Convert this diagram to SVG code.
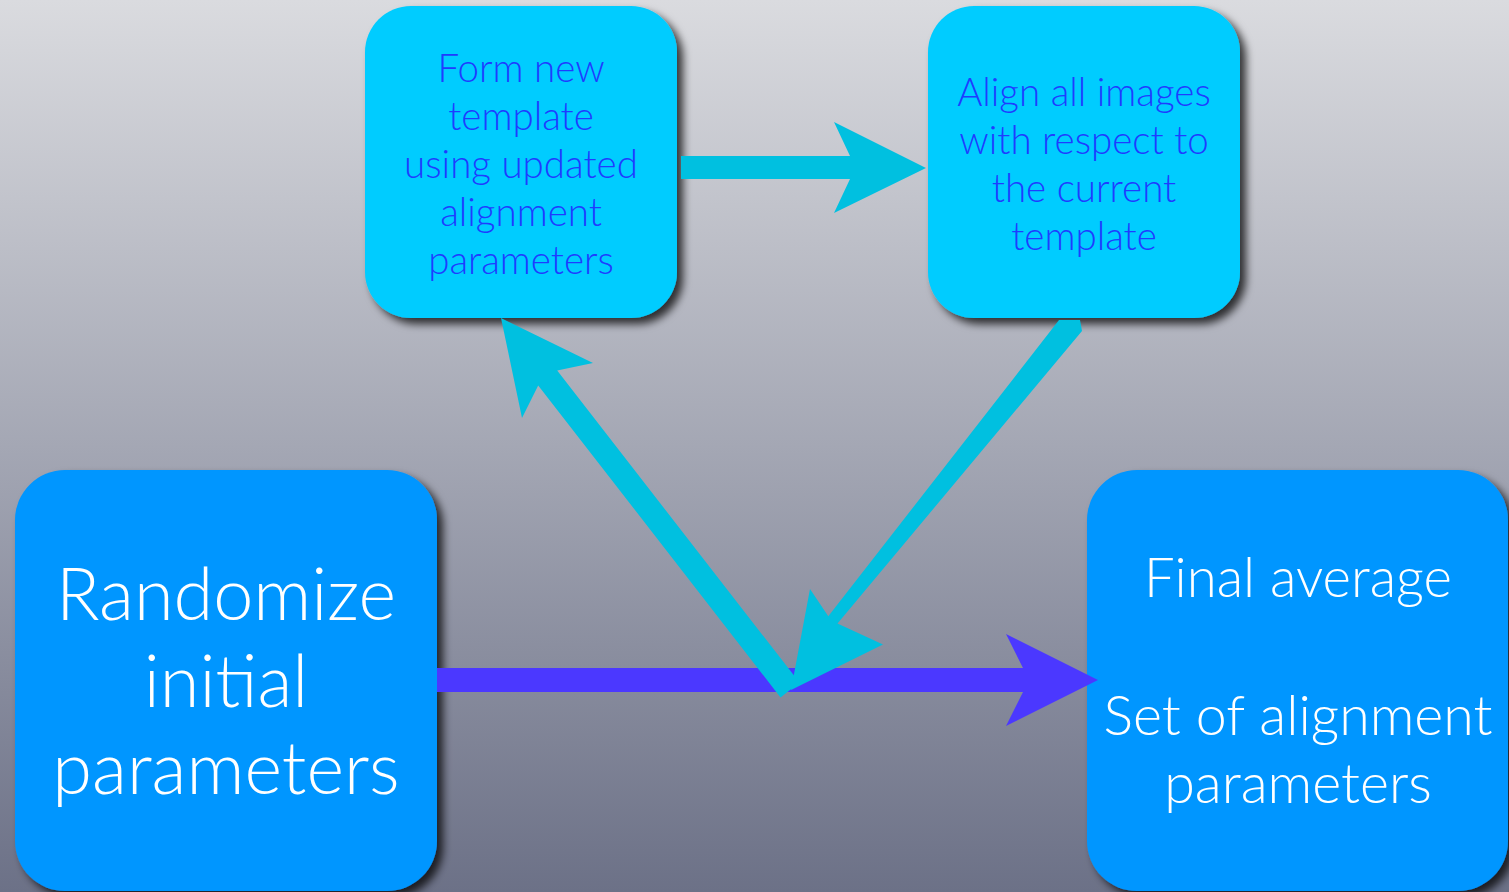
<svg xmlns="http://www.w3.org/2000/svg" width="1509" height="892" viewBox="0 0 1509 892">
<defs>
<linearGradient id="bg" x1="0" y1="0" x2="0" y2="1">
<stop offset="0" stop-color="#dadbdf"/>
<stop offset="0.5" stop-color="#a4a7b4"/>
<stop offset="1" stop-color="#6c7187"/>
</linearGradient>
<filter id="sh" x="-10%" y="-10%" width="130%" height="130%">
<feDropShadow dx="6" dy="6" stdDeviation="4" flood-color="#000" flood-opacity="0.75"/>
</filter>
</defs>
<style>
.small{fill:#00ccff;filter:url(#sh)}
.big{fill:#0096ff;filter:url(#sh)}
.ts{font-family:Lato,"Open Sans",sans-serif;font-weight:300;font-size:38.5px;fill:#1f3cff;text-anchor:middle}
.tb{font-family:Lato,"Open Sans",sans-serif;font-weight:300;fill:#ffffff;text-anchor:middle}
.cy{fill:#00c0e0}
.pu{fill:#4b38ff}
</style>
<rect x="0" y="0" width="1509" height="892" fill="url(#bg)"/>
<g id="n1">
<rect class="small" x="365" y="6" width="312" height="312" rx="46"/>
<text class="ts" x="521" y="82">Form new</text>
<text class="ts" x="521" y="130">template</text>
<text class="ts" x="521" y="178">using updated</text>
<text class="ts" x="521" y="226">alignment</text>
<text class="ts" x="521" y="274">parameters</text>
</g>
<g id="n2">
<rect class="small" x="928" y="6" width="312" height="312" rx="46"/>
<text class="ts" x="1084" y="106">Align all images</text>
<text class="ts" x="1084" y="154">with respect to</text>
<text class="ts" x="1084" y="202">the current</text>
<text class="ts" x="1084" y="250">template</text>
</g>
<g id="n3">
<rect class="big" x="15" y="470" width="422" height="421" rx="50"/>
<text class="tb" x="226" y="620" font-size="72">Randomize</text>
<text class="tb" x="226" y="707" font-size="72">initial</text>
<text class="tb" x="226" y="794" font-size="72">parameters</text>
</g>
<g id="n4">
<rect class="big" x="1087" y="470" width="421" height="421" rx="50"/>
<text class="tb" x="1298" y="597" font-size="54.5">Final average</text>
<text class="tb" x="1298" y="735" font-size="55.5">Set of alignment</text>
<text class="tb" x="1298" y="803" font-size="55.5">parameters</text>
</g>
<g id="connectors">
<polygon class="pu" points="437,668 1023,668 1006,634 1098,680 1006,726 1023,692 437,692"/>
<polygon class="cy" points="681,156 850,156 834,122 926,168 834,213 850,179 681,179"/>
<polygon class="cy" points="799.5,682.6 557.2,370.6 593,363 501,318 522,418 538.2,385.4 780.5,697.4"/>
<polygon class="cy" points="1082,331 837.5,623.5 883,644.4 791,690 810,589 828.3,616.3 1059,320 1080,320"/>
</g>
</svg>
